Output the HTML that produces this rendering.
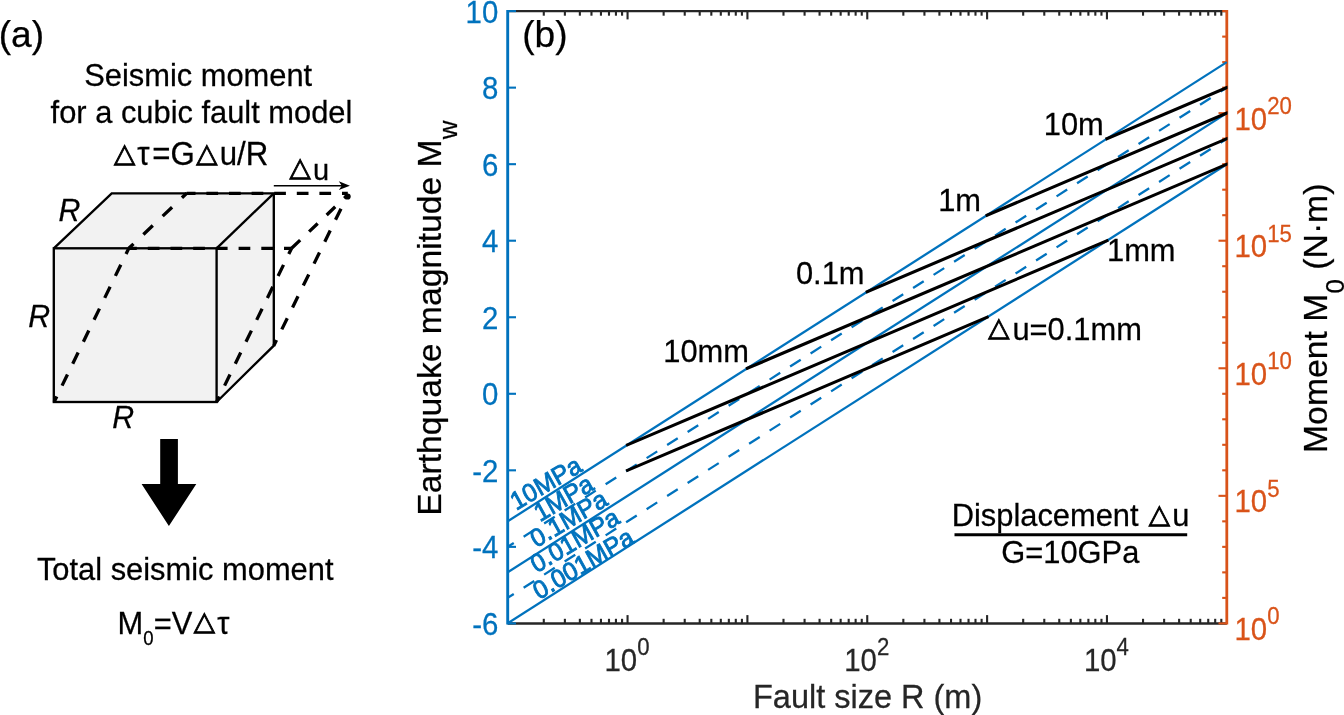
<!DOCTYPE html>
<html lang="en"><head><meta charset="utf-8"><title>Seismic moment for a cubic fault model</title>
<style>
html,body{margin:0;padding:0;background:#fff;}
body{width:1344px;height:715px;overflow:hidden;}
svg{display:block;}
.tri{font-family:"DejaVu Sans",sans-serif;}
</style></head><body>
<svg width="1344" height="715" viewBox="0 0 1344 715" font-family="'Liberation Sans', 'DejaVu Sans', sans-serif">
<rect width="1344" height="715" fill="#fff"/>
<g id="panel-a" fill="#000" stroke="#000" stroke-width="0.25">
<text transform="translate(-1.3,46.5) scale(1,1)" font-size="37.1">(a)</text>
<text transform="translate(198.2,86.0) scale(1,1.042)" font-size="30.85" text-anchor="middle">Seismic moment</text>
<text transform="translate(201.5,123.4) scale(1,1.042)" font-size="30.85" text-anchor="middle">for a cubic fault model</text>
<text class="tri" transform="translate(113.97,161.80) scale(1.0,0.96)" font-size="27.6" stroke-width="0.9">△</text>
<text transform="translate(137.37,165.3) scale(1,1.042)" font-size="31.2">τ</text>
<text transform="translate(152.19,165.3) scale(1,1.042)" font-size="31.2">=G</text>
<text class="tri" transform="translate(196.28,161.80) scale(1.0,0.96)" font-size="27.6" stroke-width="0.9">△</text>
<text transform="translate(219.68,165.3) scale(1,1.042)" font-size="31.2">u/R</text>
<text class="tri" transform="translate(289.60,176.30) scale(1.0,0.96)" font-size="27.6" stroke-width="0.9">△</text>
<text transform="translate(313.0,179.8) scale(1,1.042)" font-size="29.0">u</text>
<text transform="translate(58.6,221.0) scale(1,1.042)" font-size="30.3" font-style="italic">R</text>
<text transform="translate(28.2,327.4) scale(1,1.042)" font-size="30.3" font-style="italic">R</text>
<text transform="translate(112.3,428.0) scale(1,1.042)" font-size="30.3" font-style="italic">R</text>
<text transform="translate(185.2,579.9) scale(1,1.042)" font-size="30.85" text-anchor="middle">Total seismic moment</text>
<text transform="translate(117.6,633.7) scale(1,1.042)" font-size="30.85">M</text>
<text transform="translate(143.3,645.3) scale(1,1.042)" font-size="18.6">0</text>
<text transform="translate(153.64,633.7) scale(1,1.042)" font-size="30.85">=V</text>
<text class="tri" transform="translate(193.84,630.20) scale(1.0,0.96)" font-size="27.6" stroke-width="0.9">△</text>
<text transform="translate(217.24,633.7) scale(1,1.042)" font-size="30.85">τ</text>
</g>
<polygon points="53.8,248.3 111.7,193.3 273.8,193.3 273.8,345.7 216.6,402.0 53.8,402.0" fill="#F2F2F2" stroke="none"/>
<g fill="none" stroke="#000" stroke-width="2.35" stroke-linejoin="miter">
<rect x="53.8" y="248.3" width="162.8" height="153.7"/>
<polyline points="53.8,248.3 111.7,193.3 273.8,193.3 273.8,345.7 216.6,402.0"/>
<line x1="216.6" y1="248.3" x2="273.8" y2="193.3"/>
</g>
<g fill="none" stroke="#000" stroke-width="3.3" stroke-dasharray="12.4 12">
<path d="M54.099999999999994,402.0 L128.8,248.3" stroke-dashoffset="6.2"/>
<path d="M128.8,248.3 L186.7,193.3" stroke-dasharray="13 13.6" stroke-dashoffset="6.5"/>
<path d="M186.7,193.3 L347.8,193.3" stroke-dasharray="11.7 10.9" stroke-dashoffset="2.9"/>
<path d="M128.8,248.3 L291.6,248.3" stroke-dasharray="11.7 11" stroke-dashoffset="3.7"/>
<path d="M216.6,402.0 L291.6,248.3" stroke-dashoffset="6.2"/>
<path d="M291.6,248.3 L347.3,195.3" stroke-dasharray="11.8 12.4"/>
<path d="M273.8,345.7 L347.3,195.8" stroke-dashoffset="6.2"/>
</g>
<circle cx="347.6" cy="196.5" r="3.1" fill="#000"/>
<line x1="273.8" y1="185.7" x2="344" y2="185.7" stroke="#000" stroke-width="1.5"/>
<path d="M349.9,185.7 L338.8,181.3 L341.8,185.7 L338.8,190.1 Z" fill="#000"/>
<path d="M160.2,439 H177.9 V484 H196.3 L168.9,526 L141.6,484 H160.2 Z" fill="#000"/>
<g id="panel-b">
<g stroke="#262626" stroke-width="2.3" fill="none">
<line x1="507.7" y1="11.1" x2="1226.8" y2="11.1"/>
<line x1="507.7" y1="623.4" x2="1226.8" y2="623.4" stroke-width="2.45"/>
<line x1="543.78" y1="623.4" x2="543.78" y2="618.8" stroke-width="2.1"/>
<line x1="543.78" y1="11.1" x2="543.78" y2="15.7" stroke-width="2.1"/>
<line x1="564.88" y1="623.4" x2="564.88" y2="618.8" stroke-width="2.1"/>
<line x1="564.88" y1="11.1" x2="564.88" y2="15.7" stroke-width="2.1"/>
<line x1="579.86" y1="623.4" x2="579.86" y2="618.8" stroke-width="2.1"/>
<line x1="579.86" y1="11.1" x2="579.86" y2="15.7" stroke-width="2.1"/>
<line x1="591.47" y1="623.4" x2="591.47" y2="618.8" stroke-width="2.1"/>
<line x1="591.47" y1="11.1" x2="591.47" y2="15.7" stroke-width="2.1"/>
<line x1="600.96" y1="623.4" x2="600.96" y2="618.8" stroke-width="2.1"/>
<line x1="600.96" y1="11.1" x2="600.96" y2="15.7" stroke-width="2.1"/>
<line x1="608.99" y1="623.4" x2="608.99" y2="618.8" stroke-width="2.1"/>
<line x1="608.99" y1="11.1" x2="608.99" y2="15.7" stroke-width="2.1"/>
<line x1="615.94" y1="623.4" x2="615.94" y2="618.8" stroke-width="2.1"/>
<line x1="615.94" y1="11.1" x2="615.94" y2="15.7" stroke-width="2.1"/>
<line x1="622.07" y1="623.4" x2="622.07" y2="618.8" stroke-width="2.1"/>
<line x1="622.07" y1="11.1" x2="622.07" y2="15.7" stroke-width="2.1"/>
<line x1="627.55" y1="623.4" x2="627.55" y2="615.1" stroke-width="2.1"/>
<line x1="627.55" y1="11.1" x2="627.55" y2="19.4" stroke-width="2.1"/>
<line x1="663.63" y1="623.4" x2="663.63" y2="618.8" stroke-width="2.1"/>
<line x1="663.63" y1="11.1" x2="663.63" y2="15.7" stroke-width="2.1"/>
<line x1="684.73" y1="623.4" x2="684.73" y2="618.8" stroke-width="2.1"/>
<line x1="684.73" y1="11.1" x2="684.73" y2="15.7" stroke-width="2.1"/>
<line x1="699.71" y1="623.4" x2="699.71" y2="618.8" stroke-width="2.1"/>
<line x1="699.71" y1="11.1" x2="699.71" y2="15.7" stroke-width="2.1"/>
<line x1="711.32" y1="623.4" x2="711.32" y2="618.8" stroke-width="2.1"/>
<line x1="711.32" y1="11.1" x2="711.32" y2="15.7" stroke-width="2.1"/>
<line x1="720.81" y1="623.4" x2="720.81" y2="618.8" stroke-width="2.1"/>
<line x1="720.81" y1="11.1" x2="720.81" y2="15.7" stroke-width="2.1"/>
<line x1="728.84" y1="623.4" x2="728.84" y2="618.8" stroke-width="2.1"/>
<line x1="728.84" y1="11.1" x2="728.84" y2="15.7" stroke-width="2.1"/>
<line x1="735.79" y1="623.4" x2="735.79" y2="618.8" stroke-width="2.1"/>
<line x1="735.79" y1="11.1" x2="735.79" y2="15.7" stroke-width="2.1"/>
<line x1="741.92" y1="623.4" x2="741.92" y2="618.8" stroke-width="2.1"/>
<line x1="741.92" y1="11.1" x2="741.92" y2="15.7" stroke-width="2.1"/>
<line x1="747.40" y1="623.4" x2="747.40" y2="615.1" stroke-width="2.1"/>
<line x1="747.40" y1="11.1" x2="747.40" y2="19.4" stroke-width="2.1"/>
<line x1="783.48" y1="623.4" x2="783.48" y2="618.8" stroke-width="2.1"/>
<line x1="783.48" y1="11.1" x2="783.48" y2="15.7" stroke-width="2.1"/>
<line x1="804.58" y1="623.4" x2="804.58" y2="618.8" stroke-width="2.1"/>
<line x1="804.58" y1="11.1" x2="804.58" y2="15.7" stroke-width="2.1"/>
<line x1="819.56" y1="623.4" x2="819.56" y2="618.8" stroke-width="2.1"/>
<line x1="819.56" y1="11.1" x2="819.56" y2="15.7" stroke-width="2.1"/>
<line x1="831.17" y1="623.4" x2="831.17" y2="618.8" stroke-width="2.1"/>
<line x1="831.17" y1="11.1" x2="831.17" y2="15.7" stroke-width="2.1"/>
<line x1="840.66" y1="623.4" x2="840.66" y2="618.8" stroke-width="2.1"/>
<line x1="840.66" y1="11.1" x2="840.66" y2="15.7" stroke-width="2.1"/>
<line x1="848.69" y1="623.4" x2="848.69" y2="618.8" stroke-width="2.1"/>
<line x1="848.69" y1="11.1" x2="848.69" y2="15.7" stroke-width="2.1"/>
<line x1="855.64" y1="623.4" x2="855.64" y2="618.8" stroke-width="2.1"/>
<line x1="855.64" y1="11.1" x2="855.64" y2="15.7" stroke-width="2.1"/>
<line x1="861.77" y1="623.4" x2="861.77" y2="618.8" stroke-width="2.1"/>
<line x1="861.77" y1="11.1" x2="861.77" y2="15.7" stroke-width="2.1"/>
<line x1="867.25" y1="623.4" x2="867.25" y2="615.1" stroke-width="2.1"/>
<line x1="867.25" y1="11.1" x2="867.25" y2="19.4" stroke-width="2.1"/>
<line x1="903.33" y1="623.4" x2="903.33" y2="618.8" stroke-width="2.1"/>
<line x1="903.33" y1="11.1" x2="903.33" y2="15.7" stroke-width="2.1"/>
<line x1="924.43" y1="623.4" x2="924.43" y2="618.8" stroke-width="2.1"/>
<line x1="924.43" y1="11.1" x2="924.43" y2="15.7" stroke-width="2.1"/>
<line x1="939.41" y1="623.4" x2="939.41" y2="618.8" stroke-width="2.1"/>
<line x1="939.41" y1="11.1" x2="939.41" y2="15.7" stroke-width="2.1"/>
<line x1="951.02" y1="623.4" x2="951.02" y2="618.8" stroke-width="2.1"/>
<line x1="951.02" y1="11.1" x2="951.02" y2="15.7" stroke-width="2.1"/>
<line x1="960.51" y1="623.4" x2="960.51" y2="618.8" stroke-width="2.1"/>
<line x1="960.51" y1="11.1" x2="960.51" y2="15.7" stroke-width="2.1"/>
<line x1="968.54" y1="623.4" x2="968.54" y2="618.8" stroke-width="2.1"/>
<line x1="968.54" y1="11.1" x2="968.54" y2="15.7" stroke-width="2.1"/>
<line x1="975.49" y1="623.4" x2="975.49" y2="618.8" stroke-width="2.1"/>
<line x1="975.49" y1="11.1" x2="975.49" y2="15.7" stroke-width="2.1"/>
<line x1="981.62" y1="623.4" x2="981.62" y2="618.8" stroke-width="2.1"/>
<line x1="981.62" y1="11.1" x2="981.62" y2="15.7" stroke-width="2.1"/>
<line x1="987.10" y1="623.4" x2="987.10" y2="615.1" stroke-width="2.1"/>
<line x1="987.10" y1="11.1" x2="987.10" y2="19.4" stroke-width="2.1"/>
<line x1="1023.18" y1="623.4" x2="1023.18" y2="618.8" stroke-width="2.1"/>
<line x1="1023.18" y1="11.1" x2="1023.18" y2="15.7" stroke-width="2.1"/>
<line x1="1044.28" y1="623.4" x2="1044.28" y2="618.8" stroke-width="2.1"/>
<line x1="1044.28" y1="11.1" x2="1044.28" y2="15.7" stroke-width="2.1"/>
<line x1="1059.26" y1="623.4" x2="1059.26" y2="618.8" stroke-width="2.1"/>
<line x1="1059.26" y1="11.1" x2="1059.26" y2="15.7" stroke-width="2.1"/>
<line x1="1070.87" y1="623.4" x2="1070.87" y2="618.8" stroke-width="2.1"/>
<line x1="1070.87" y1="11.1" x2="1070.87" y2="15.7" stroke-width="2.1"/>
<line x1="1080.36" y1="623.4" x2="1080.36" y2="618.8" stroke-width="2.1"/>
<line x1="1080.36" y1="11.1" x2="1080.36" y2="15.7" stroke-width="2.1"/>
<line x1="1088.39" y1="623.4" x2="1088.39" y2="618.8" stroke-width="2.1"/>
<line x1="1088.39" y1="11.1" x2="1088.39" y2="15.7" stroke-width="2.1"/>
<line x1="1095.34" y1="623.4" x2="1095.34" y2="618.8" stroke-width="2.1"/>
<line x1="1095.34" y1="11.1" x2="1095.34" y2="15.7" stroke-width="2.1"/>
<line x1="1101.47" y1="623.4" x2="1101.47" y2="618.8" stroke-width="2.1"/>
<line x1="1101.47" y1="11.1" x2="1101.47" y2="15.7" stroke-width="2.1"/>
<line x1="1106.95" y1="623.4" x2="1106.95" y2="615.1" stroke-width="2.1"/>
<line x1="1106.95" y1="11.1" x2="1106.95" y2="19.4" stroke-width="2.1"/>
<line x1="1143.03" y1="623.4" x2="1143.03" y2="618.8" stroke-width="2.1"/>
<line x1="1143.03" y1="11.1" x2="1143.03" y2="15.7" stroke-width="2.1"/>
<line x1="1164.13" y1="623.4" x2="1164.13" y2="618.8" stroke-width="2.1"/>
<line x1="1164.13" y1="11.1" x2="1164.13" y2="15.7" stroke-width="2.1"/>
<line x1="1179.11" y1="623.4" x2="1179.11" y2="618.8" stroke-width="2.1"/>
<line x1="1179.11" y1="11.1" x2="1179.11" y2="15.7" stroke-width="2.1"/>
<line x1="1190.72" y1="623.4" x2="1190.72" y2="618.8" stroke-width="2.1"/>
<line x1="1190.72" y1="11.1" x2="1190.72" y2="15.7" stroke-width="2.1"/>
<line x1="1200.21" y1="623.4" x2="1200.21" y2="618.8" stroke-width="2.1"/>
<line x1="1200.21" y1="11.1" x2="1200.21" y2="15.7" stroke-width="2.1"/>
<line x1="1208.24" y1="623.4" x2="1208.24" y2="618.8" stroke-width="2.1"/>
<line x1="1208.24" y1="11.1" x2="1208.24" y2="15.7" stroke-width="2.1"/>
<line x1="1215.19" y1="623.4" x2="1215.19" y2="618.8" stroke-width="2.1"/>
<line x1="1215.19" y1="11.1" x2="1215.19" y2="15.7" stroke-width="2.1"/>
<line x1="1221.32" y1="623.4" x2="1221.32" y2="618.8" stroke-width="2.1"/>
<line x1="1221.32" y1="11.1" x2="1221.32" y2="15.7" stroke-width="2.1"/>
</g>
<g stroke="#0072BD" stroke-width="2.9" fill="none">
<line x1="507.7" y1="9.95" x2="507.7" y2="624.55"/>
<line x1="507.7" y1="623.40" x2="516.0" y2="623.40" stroke-width="2.1"/>
<line x1="507.7" y1="546.86" x2="516.0" y2="546.86" stroke-width="2.1"/>
<line x1="507.7" y1="470.32" x2="516.0" y2="470.32" stroke-width="2.1"/>
<line x1="507.7" y1="393.79" x2="516.0" y2="393.79" stroke-width="2.1"/>
<line x1="507.7" y1="317.25" x2="516.0" y2="317.25" stroke-width="2.1"/>
<line x1="507.7" y1="240.71" x2="516.0" y2="240.71" stroke-width="2.1"/>
<line x1="507.7" y1="164.18" x2="516.0" y2="164.18" stroke-width="2.1"/>
<line x1="507.7" y1="87.64" x2="516.0" y2="87.64" stroke-width="2.1"/>
<line x1="507.7" y1="11.10" x2="516.0" y2="11.10" stroke-width="2.1"/>
</g>
<g stroke="#D95319" stroke-width="2.8" fill="none">
<line x1="1226.8" y1="9.95" x2="1226.8" y2="624.55"/>
<line x1="1226.8" y1="623.40" x2="1218.5" y2="623.40" stroke-width="2.1"/>
<line x1="1226.8" y1="597.89" x2="1222.2" y2="597.89" stroke-width="2.1"/>
<line x1="1226.8" y1="572.38" x2="1222.2" y2="572.38" stroke-width="2.1"/>
<line x1="1226.8" y1="546.86" x2="1222.2" y2="546.86" stroke-width="2.1"/>
<line x1="1226.8" y1="521.35" x2="1222.2" y2="521.35" stroke-width="2.1"/>
<line x1="1226.8" y1="495.84" x2="1218.5" y2="495.84" stroke-width="2.1"/>
<line x1="1226.8" y1="470.32" x2="1222.2" y2="470.32" stroke-width="2.1"/>
<line x1="1226.8" y1="444.81" x2="1222.2" y2="444.81" stroke-width="2.1"/>
<line x1="1226.8" y1="419.30" x2="1222.2" y2="419.30" stroke-width="2.1"/>
<line x1="1226.8" y1="393.79" x2="1222.2" y2="393.79" stroke-width="2.1"/>
<line x1="1226.8" y1="368.27" x2="1218.5" y2="368.27" stroke-width="2.1"/>
<line x1="1226.8" y1="342.76" x2="1222.2" y2="342.76" stroke-width="2.1"/>
<line x1="1226.8" y1="317.25" x2="1222.2" y2="317.25" stroke-width="2.1"/>
<line x1="1226.8" y1="291.74" x2="1222.2" y2="291.74" stroke-width="2.1"/>
<line x1="1226.8" y1="266.22" x2="1222.2" y2="266.22" stroke-width="2.1"/>
<line x1="1226.8" y1="240.71" x2="1218.5" y2="240.71" stroke-width="2.1"/>
<line x1="1226.8" y1="215.20" x2="1222.2" y2="215.20" stroke-width="2.1"/>
<line x1="1226.8" y1="189.69" x2="1222.2" y2="189.69" stroke-width="2.1"/>
<line x1="1226.8" y1="164.18" x2="1222.2" y2="164.18" stroke-width="2.1"/>
<line x1="1226.8" y1="138.66" x2="1222.2" y2="138.66" stroke-width="2.1"/>
<line x1="1226.8" y1="113.15" x2="1218.5" y2="113.15" stroke-width="2.1"/>
<line x1="1226.8" y1="87.64" x2="1222.2" y2="87.64" stroke-width="2.1"/>
<line x1="1226.8" y1="62.12" x2="1222.2" y2="62.12" stroke-width="2.1"/>
<line x1="1226.8" y1="36.61" x2="1222.2" y2="36.61" stroke-width="2.1"/>
<line x1="1226.8" y1="11.10" x2="1222.2" y2="11.10" stroke-width="2.1"/>
</g>
<g stroke="#0072BD" stroke-width="2.3" fill="none">
<line x1="507.70" y1="521.35" x2="1226.80" y2="62.12"/>
<line x1="507.70" y1="546.86" x2="1226.80" y2="87.64" stroke-dasharray="12.6 11.72" stroke-dashoffset="5.4"/>
<line x1="507.70" y1="572.38" x2="1226.80" y2="113.15"/>
<line x1="507.70" y1="597.89" x2="1226.80" y2="138.66" stroke-dasharray="12.6 11.72" stroke-dashoffset="5.4"/>
<line x1="507.70" y1="623.40" x2="1226.80" y2="164.18"/>
</g>
<clipPath id="box"><rect x="507.7" y="11.1" width="719.8" height="612.3"/></clipPath>
<g stroke="#000" stroke-width="3.1" fill="none" stroke-linecap="square" clip-path="url(#box)">
<line x1="627.55" y1="470.32" x2="987.10" y2="317.25"/>
<line x1="627.55" y1="444.81" x2="1106.95" y2="240.71"/>
<line x1="747.40" y1="368.27" x2="1226.80" y2="164.18"/>
<line x1="867.25" y1="291.74" x2="1226.80" y2="138.66"/>
<line x1="987.10" y1="215.20" x2="1226.80" y2="113.15"/>
<line x1="1106.95" y1="138.66" x2="1226.80" y2="87.64"/>
</g>
<g fill="#0072BD" stroke="#0072BD" stroke-width="0.25">
<text transform="translate(498.3,635.0) scale(1,1.042)" font-size="29.4" text-anchor="end">-6</text>
<text transform="translate(498.3,558.46) scale(1,1.042)" font-size="29.4" text-anchor="end">-4</text>
<text transform="translate(498.3,481.93) scale(1,1.042)" font-size="29.4" text-anchor="end">-2</text>
<text transform="translate(498.3,405.39) scale(1,1.042)" font-size="29.4" text-anchor="end">0</text>
<text transform="translate(498.3,328.85) scale(1,1.042)" font-size="29.4" text-anchor="end">2</text>
<text transform="translate(498.3,252.31) scale(1,1.042)" font-size="29.4" text-anchor="end">4</text>
<text transform="translate(498.3,175.78) scale(1,1.042)" font-size="29.4" text-anchor="end">6</text>
<text transform="translate(498.3,99.24) scale(1,1.042)" font-size="29.4" text-anchor="end">8</text>
<text transform="translate(498.3,22.7) scale(1,1.042)" font-size="29.4" text-anchor="end">10</text>
</g>
<g fill="#D95319" stroke="#D95319" stroke-width="0.25">
<text transform="translate(1234.5,639.9) scale(1,1.042)" font-size="29.4">10<tspan font-size="22.2" dy="-15.0">0</tspan></text>
<text transform="translate(1234.5,512.34) scale(1,1.042)" font-size="29.4">10<tspan font-size="22.2" dy="-15.0">5</tspan></text>
<text transform="translate(1234.5,384.77) scale(1,1.042)" font-size="29.4">10<tspan font-size="22.2" dy="-15.0">10</tspan></text>
<text transform="translate(1234.5,257.21) scale(1,1.042)" font-size="29.4">10<tspan font-size="22.2" dy="-15.0">15</tspan></text>
<text transform="translate(1234.5,129.65) scale(1,1.042)" font-size="29.4">10<tspan font-size="22.2" dy="-15.0">20</tspan></text>
</g>
<g fill="#262626" stroke="#262626" stroke-width="0.25">
<text transform="translate(627.05,670.5) scale(1,1.042)" font-size="29.4" text-anchor="middle">10<tspan font-size="22.2" dy="-15.0">0</tspan></text>
<text transform="translate(866.75,670.5) scale(1,1.042)" font-size="29.4" text-anchor="middle">10<tspan font-size="22.2" dy="-15.0">2</tspan></text>
<text transform="translate(1106.45,670.5) scale(1,1.042)" font-size="29.4" text-anchor="middle">10<tspan font-size="22.2" dy="-15.0">4</tspan></text>
<text transform="translate(867.6,707.6) scale(1,1.042)" font-size="32.5" text-anchor="middle">Fault size R (m)</text>
</g>
<g fill="#000" stroke="#000" stroke-width="0.25">
<text transform="translate(441.2,515.8) scale(1,1.037) rotate(-90.000)" font-size="32.5">Earthquake magnitude M<tspan font-size="25" dy="16.2">w</tspan></text>
<text transform="translate(1327.4,453.0) scale(1,1.039) rotate(-90.000)" font-size="32.5">Moment M<tspan font-size="25" dy="16.2">0</tspan><tspan dy="-16.2"> (N·m)</tspan></text>
<text transform="translate(522.2,46.7) scale(1,1)" font-size="37.1">(b)</text>
<text transform="translate(1103.8,134.8) scale(1,1.042)" font-size="30.85" text-anchor="end">10m</text>
<text transform="translate(981,211.3) scale(1,1.042)" font-size="30.85" text-anchor="end">1m</text>
<text transform="translate(864.5,283.8) scale(1,1.042)" font-size="30.85" text-anchor="end">0.1m</text>
<text transform="translate(749,362.1) scale(1,1.042)" font-size="30.85" text-anchor="end">10mm</text>
<text transform="translate(1107,261.4) scale(1,1.042)" font-size="30.85">1mm</text>
<text class="tri" transform="translate(988.20,336.20) scale(1.0,0.96)" font-size="27.6" stroke-width="0.9">△</text>
<text transform="translate(1012.4,339.7) scale(1,1.042)" font-size="30.85">u=0.1mm</text>
<text transform="translate(951.69,526.0) scale(1,1.042)" font-size="30.85">Displacement </text>
<text class="tri" transform="translate(1148.75,522.50) scale(1.0,0.96)" font-size="27.6" stroke-width="0.9">△</text>
<text transform="translate(1172.15,526.0) scale(1,1.042)" font-size="30.85">u</text>
<text transform="translate(1070.3,562.7) scale(1,1.042)" font-size="30.85" text-anchor="middle">G=10GPa</text>
</g>
<line x1="954.5" y1="534.7" x2="1187.2" y2="534.7" stroke="#000" stroke-width="3.0"/>
<g fill="#0072BD" stroke="#0072BD" stroke-width="0.85">
<text transform="translate(516.3,510.8) scale(1,1.042) rotate(-30.000)" font-size="24.5">10MPa</text>
<text transform="translate(540.0,522.3) scale(1,1.042) rotate(-30.000)" font-size="24.5">1MPa</text>
<text transform="translate(536.2,548.2) scale(1,1.042) rotate(-30.000)" font-size="24.5">0.1MPa</text>
<text transform="translate(536.5,573.4) scale(1,1.042) rotate(-30.000)" font-size="24.5">0.01MPa</text>
<text transform="translate(539.0,600.2) scale(1,1.042) rotate(-30.000)" font-size="24.5">0.001MPa</text>
</g>
</g>
</svg>
</body></html>
